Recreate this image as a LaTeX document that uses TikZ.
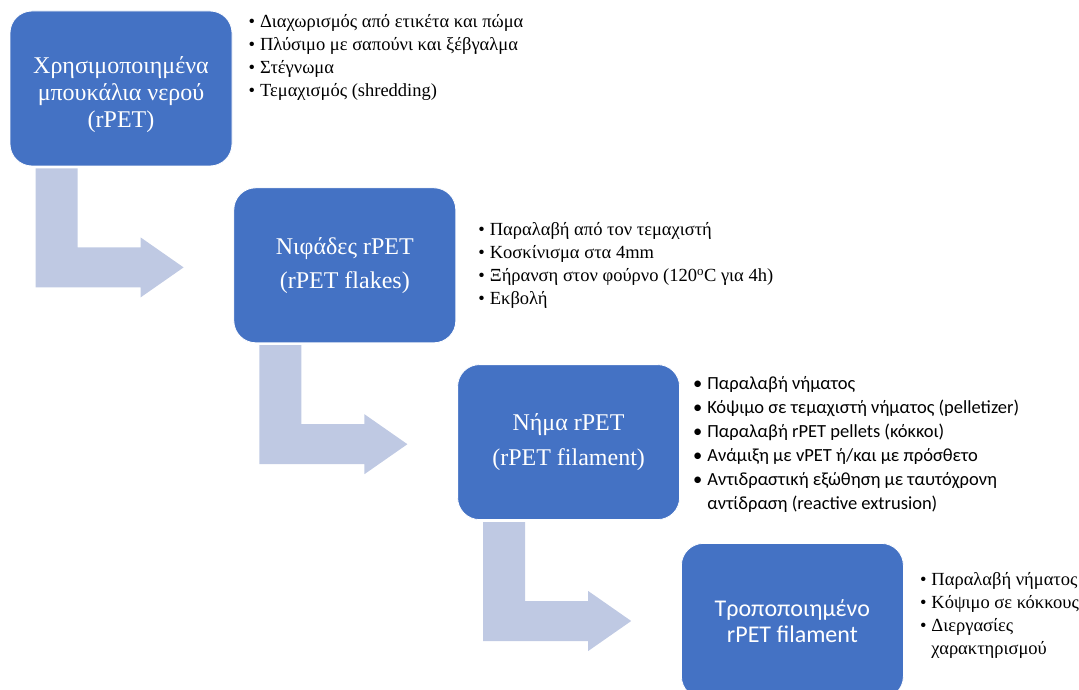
\documentclass[tikz,border=0pt]{standalone}
\usepackage{fontspec}
\setmainfont{Liberation Serif}
\newfontfamily\calibri{Carlito}
\usetikzlibrary{positioning, calc}

% one bullet per row, wrapped lines go in a row with an empty first cell
\newcommand{\steplist}[1]{\begin{tabular}{@{}l@{\hspace{5pt}}l@{}}#1\end{tabular}}

\begin{document}
\begin{tikzpicture}[
    x=1pt, y=-1pt,
    every node/.style={inner sep=0pt},
    stage/.style={rectangle, rounded corners=22pt, fill=boxblue, draw=white,
        line width=0.8pt, minimum width=222pt, minimum height=155pt,
        text=white, align=center, font=\fontsize{24}{27}\selectfont},
    steps/.style={align=left, text=black, font=\fontsize{18.5}{23}\selectfont},
]

\definecolor{boxblue}{HTML}{4472C4}
\definecolor{arrowblue}{HTML}{BFC9E3}   % the elbow arrows between stages

\useasboundingbox (0,0) rectangle (1079,690);
\clip (0,0) rectangle (1079,690);

% ------------------------------------------------------------ stages
\node[stage, text height=84pt] (b1) at (121,88.5)
    {Χρησιμοποιημένα\\μπουκάλια νερού\\(rPET)};
\node[stage, below right=21pt and 1pt of b1] (b2) {Νιφάδες rPET\\[7pt](rPET flakes)};
\node[stage, below right=21pt and 1pt of b2] (b3) {Νήμα rPET\\[8pt](rPET filament)};
\node[stage, below right=23pt and 1pt of b3,
      font=\calibri\fontsize{24}{25.5}\selectfont] (b4)
    {Τροποποιημένο\\rPET filament};

% ------------------------------------------------------------ elbow arrows
\foreach \b in {b1, b2, b3} {
    \fill[arrowblue] ($(\b.south west)+(26,2)$) -- ++(42,0) -- ++(0,79)
        -- ++(63,0) -- ++(0,-10) -- ++(43,30) -- ++(-43,30) -- ++(0,-10)
        -- ++(-105,0) -- cycle;
}

% ------------------------------------------------------------ what happens at each stage
\node[steps, anchor=north west] (s1) at ($(b1.north east)+(16,1)$) {\steplist{
    • & Διαχωρισμός από ετικέτα και πώμα\\
    • & Πλύσιμο με σαπούνι και ξέβγαλμα\\
    • & Στέγνωμα\\
    • & Τεμαχισμός (shredding)}};

\node[steps, right=22pt of b2] (s2) {\steplist{
    • & Παραλαβή από τον τεμαχιστή\\
    • & Κοσκίνισμα στα 4mm\\
    • & Ξήρανση στον φούρνο (120\textsuperscript{o}C για 4h)\\
    • & Εκβολή}};

\node[steps, right=13pt of b3, yshift=-2.5pt,
      font=\calibri\fontsize{18.5}{24}\selectfont] (s3) {\steplist{
    • & Παραλαβή νήματος\\
    • & Κόψιμο σε τεμαχιστή νήματος (pelletizer)\\
    • & Παραλαβή rPET pellets (κόκκοι)\\
    • & Ανάμιξη με vPET ή/και με πρόσθετο\\
    • & Αντιδραστική εξώθηση με ταυτόχρονη\\
      & αντίδραση (reactive extrusion)}};

\node[steps, right=16pt of b4, yshift=5.5pt] (s4) {\steplist{
    • & Παραλαβή νήματος\\
    • & Κόψιμο σε κόκκους\\
    • & Διεργασίες\\
      & χαρακτηρισμού}};

\end{tikzpicture}
\end{document}
